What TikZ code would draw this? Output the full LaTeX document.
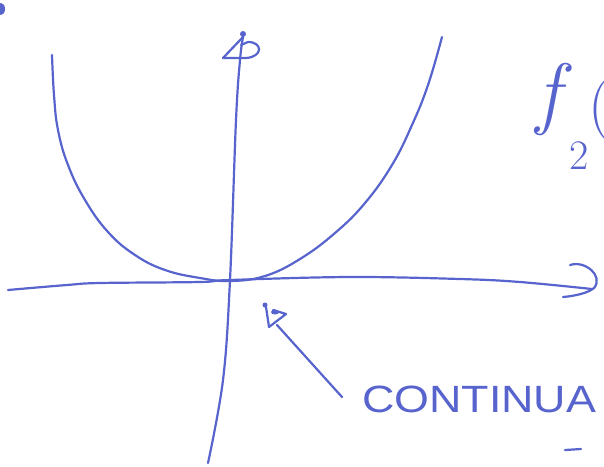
\documentclass[tikz,border=0pt]{standalone}
\usepackage{fontspec}
\newfontfamily\handsans{Liberation Sans}
\definecolor{ink}{RGB}{88,100,205}
\tikzset{
  pen/.style={draw=ink, line width=2.2pt, line cap=round, line join=round},
  label/.style={text=ink, inner sep=0pt, outer sep=0pt}
}
\begin{document}
\begin{tikzpicture}[x=1pt,y=-1pt]
\useasboundingbox (0,0) rectangle (604,466);
\clip (0,0) rectangle (604,466);
\fill[white] (0,0) rectangle (604,466);
% named points
\coordinate (xstart) at (8,290);
\coordinate (xtip) at (592,289);
\coordinate (ybot) at (208,463);
\coordinate (ytip) at (243,37);
\coordinate (atail) at (342,397);
\coordinate (ahead) at (277,325);
% horizontal axis
\draw[pen] plot[smooth, tension=0.6] coordinates {(xstart) (67,285) (100,283) (200,282) (230,280) (350,277) (460,279) (520,282) (xtip)};
\draw[pen] (570,265) .. controls (585,260) and (604,276) .. (594,288) .. controls (588,293) and (575,296) .. (563,297);
% vertical axis
\draw[pen] plot[smooth, tension=0.6] coordinates {(ybot) (223,380) (230,280) (236,120) (240,60) (ytip)};
\draw[pen] (243,37) -- (223,58) -- (246,58) .. controls (263,57) and (263,42) .. (248,42) -- (241,45);
\fill[ink] (243,34) circle (3);
% curve
\draw[pen] plot[smooth, tension=0.7] coordinates {(52,55) (54,95) (58,130) (68,165) (85,200) (108,232) (135,255) (165,270) (200,278) (230,281) (265,276) (300,259) (335,233) (365,203) (392,165) (412,125) (428,85) (442,37)};
% small arrow
\draw[pen] (atail) -- (ahead);
\draw[pen] (266,307) -- (269,327) -- (286,314) -- (273,310);
\fill[ink] (265,305) circle (2.5);
\fill[ink] (275,312) ellipse (4 and 2.5);
% texts
\node[label, anchor=base west, font=\handsans\fontsize{38}{40}\selectfont, xscale=1.18] (cont) at (362,412) {CONTINUA};
\node[label, font=\fontsize{80}{84}\selectfont\itshape] (fnode) at (548,99) {f};
\node[label, font=\fontsize{42}{44}\selectfont] (sub) at (579,156) {2};
\node[label, font=\fontsize{62}{64}\selectfont] (paren) at (599,110) {(};
% stray marks
\draw[pen] (565,450) -- (581,449);
\fill[ink] (1,9) ellipse (4 and 6);
\end{tikzpicture}
\end{document}
